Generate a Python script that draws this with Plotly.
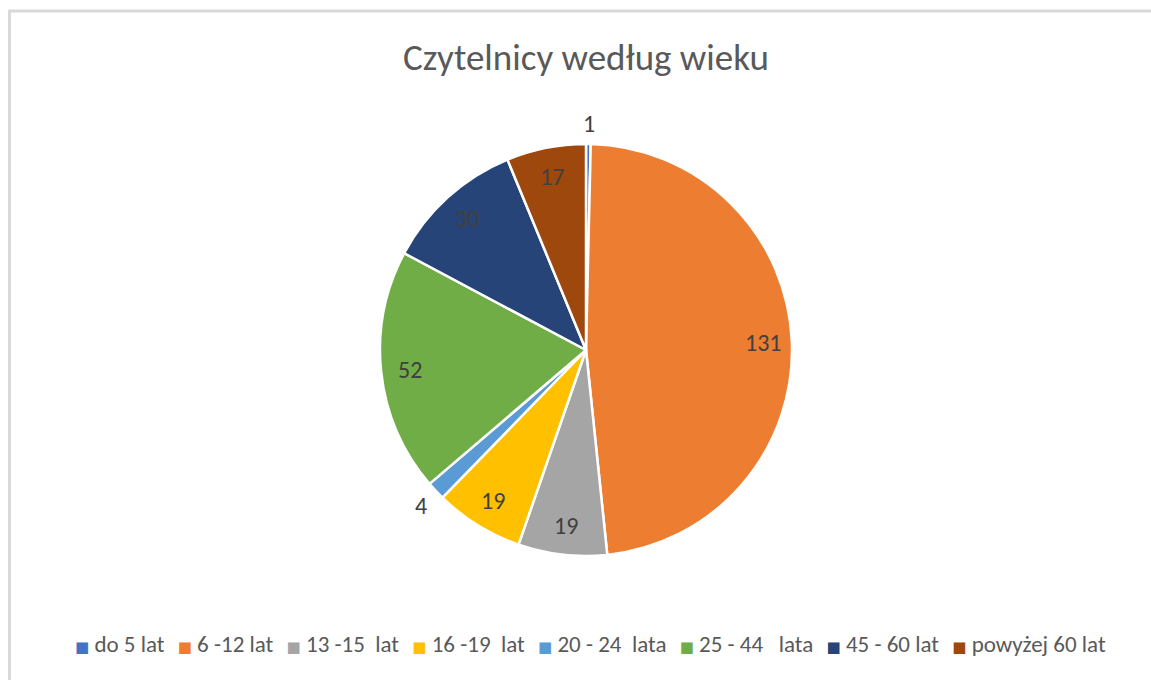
import math
import plotly.graph_objects as go

categories = ["do 5 lat", "6 -12 lat", "13 -15\u00a0 lat", "16 -19\u00a0 lat",
              "20 - 24\u00a0 lata", "25 - 44\u00a0\u00a0 lata", "45 - 60 lat", "powyżej 60 lat"]
values = [1, 131, 19, 19, 4, 52, 30, 17]
colors = ["#4472C4", "#ED7D31", "#A5A5A5", "#FFC000",
          "#5B9BD5", "#70AD47", "#264478", "#9E480E"]
label_outside = [True, False, False, False, True, False, False, False]

W, H = 1151, 680
cx, cy, r = 586, 350, 206
FONT = "Calibri, Carlito, 'Liberation Sans', Arial, sans-serif"

fig = go.Figure(go.Pie(
    labels=categories,
    values=values,
    sort=False,
    direction="clockwise",
    rotation=0,
    marker=dict(colors=colors, line=dict(color="white", width=2.5)),
    textinfo="none",
    domain=dict(x=[(cx - r) / W, (cx + r) / W], y=[1 - (cy + r) / H, 1 - (cy - r) / H]),
    hoverinfo="label+value",
    showlegend=False,
))

# data labels, placed at each slice's mid-angle (computed from the values)
annotations = []
total = sum(values)
cum = 0
for v, outside in zip(values, label_outside):
    mid = (cum + v / 2) / total * 2 * math.pi
    cum += v
    f = 1.1 if outside else 0.86
    px = cx + f * r * math.sin(mid)
    py = cy - f * r * math.cos(mid)
    annotations.append(dict(x=px / W, y=1 - py / H, xref="paper", yref="paper",
                            text=str(v), showarrow=False, xanchor="center", yanchor="middle",
                            font=dict(size=24, color="#404040", family=FONT)))

# legend line built from the categories and colours
nb = "\u00a0"
parts = []
for cat, col in zip(categories, colors):
    parts.append(f'<span style="color:{col};font-size:15px;font-family:DejaVu Sans">■</span>{nb}{cat}')
legend_text = (nb * 2 + "\u200a").join(parts)
annotations.append(dict(x=590 / W, y=1 - 644 / H, xref="paper", yref="paper",
                        text=legend_text, showarrow=False, xanchor="center", yanchor="middle",
                        font=dict(size=23, color="#595959", family=FONT)))

fig.update_layout(
    width=W, height=H,
    margin=dict(l=0, r=0, t=0, b=0),
    paper_bgcolor="white",
    plot_bgcolor="white",
    font=dict(family=FONT, color="#595959"),
    title=dict(text="Czytelnicy według wieku", x=586 / W, xanchor="center",
               y=1 - 57 / H, yanchor="middle",
               font=dict(size=37, color="#595959", family=FONT)),
    annotations=annotations,
    shapes=[dict(type="rect", xref="paper", yref="paper",
                 x0=9.5 / W, x1=1.05, y0=-0.05, y1=1 - 11 / H,
                 line=dict(color="#D9D9D9", width=3), fillcolor="rgba(0,0,0,0)", layer="below")],
)

fig.write_html("out.html", config={"displayModeBar": False},
               post_script="document.body.style.margin='0';document.body.style.overflow='hidden';")
